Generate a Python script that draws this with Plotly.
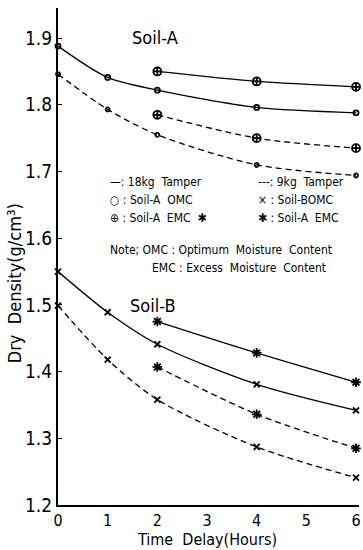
import plotly.graph_objects as go

hours_full = [0, 1, 2, 4, 6]
hours_late = [2, 4, 6]

a_omc_18 = [1.888, 1.841, 1.822, 1.796, 1.788]
a_emc_18 = [1.850, 1.835, 1.827]
a_omc_9 = [1.846, 1.793, 1.755, 1.710, 1.694]
a_emc_9 = [1.785, 1.750, 1.735]

b_omc_18 = [1.550, 1.489, 1.441, 1.381, 1.342]
b_emc_18 = [1.475, 1.428, 1.384]
b_omc_9 = [1.499, 1.418, 1.358, 1.287, 1.241]
b_emc_9 = [1.407, 1.336, 1.285]

y_ticks = [1.2, 1.3, 1.4, 1.5, 1.6, 1.7, 1.8, 1.9]
x_ticks = [0, 1, 2, 3, 4, 5, 6]

FONT = "Liberation Sans Narrow, DejaVu Sans Condensed, Liberation Sans, Arial, sans-serif"

series = [
    (hours_full, a_omc_18, "solid", "circle-open", 5),
    (hours_late, a_emc_18, "solid", "circle-cross-open", 8),
    (hours_full, a_omc_9, "6px,4px", "circle-open", 4),
    (hours_late, a_emc_9, "6px,4px", "circle-cross-open", 8),
    (hours_full, b_omc_18, "solid", "x-thin-open", 6),
    (hours_late, b_emc_18, "solid", "asterisk-open", 8),
    (hours_full, b_omc_9, "6px,4px", "x-thin-open", 6),
    (hours_late, b_emc_9, "6px,4px", "asterisk-open", 8),
]

fig = go.Figure()
for xs, ys, dash, sym, sz in series:
    fig.add_trace(go.Scatter(
        x=xs, y=ys, mode="lines+markers",
        line=dict(color="black", width=1.3, dash=dash, shape="spline", smoothing=0.8),
        marker=dict(symbol=sym, size=sz, color="black", line=dict(color="black", width=1.8)),
        showlegend=False, hoverinfo="skip", cliponaxis=False,
    ))

TOP, BOT = 8, 505
H = BOT - TOP

fig.update_layout(
    width=363, height=550,
    margin=dict(l=58, r=2, t=TOP, b=550 - BOT),
    paper_bgcolor="white", plot_bgcolor="white",
    font=dict(family=FONT, color="black"),
    xaxis=dict(range=[0, 6.06], tickvals=x_ticks, ticktext=[str(v) for v in x_ticks],
               showgrid=False, zeroline=False, showline=True, linecolor="black", linewidth=2,
               ticks="", ticklabeloverflow="allow",
               tickfont=dict(size=16, family=FONT)),
    yaxis=dict(range=[1.2, 1.2 + H / 667], tickvals=y_ticks, ticktext=[f"{v:.1f}" for v in y_ticks],
               showgrid=False, zeroline=False, showline=True, linecolor="black", linewidth=2,
               ticks="inside", ticklen=4, tickcolor="black",
               tickfont=dict(size=19, family=FONT)),
)

ann = []
def text(x, y, s, size=13, xanchor="left"):
    ann.append(dict(x=x, y=y, xref="paper", yref="paper", text=s, showarrow=False,
                    xanchor=xanchor, yanchor="middle", font=dict(size=size, family=FONT, color="black")))

def px(xp):
    return (xp - 58) / 303
def py(yp):
    return (BOT - yp) / H

text(px(130), py(38), "Soil-A", 18)
text(px(128), py(305), "Soil-B", 18)
text(px(108), py(182), "—: 18kg  Tamper", 12)
text(px(257), py(182), "---: 9kg  Tamper", 12)
text(px(108), py(200), "○ : Soil-A  OMC", 12)
text(px(257), py(200), "× : Soil-BOMC", 12)
text(px(108), py(218), "⊕ : Soil-A  EMC  ✱", 12)
text(px(257), py(218), "✱ : Soil-A  EMC", 12)
text(px(108), py(250), "Note; OMC : Optimum  Moisture  Content", 12)
text(px(240), py(268), "EMC : Excess  Moisture  Content", 12, xanchor="center")

ann.append(dict(x=px(208), y=py(539), xref="paper", yref="paper", text="Time  Delay(Hours)",
                showarrow=False, xanchor="center", yanchor="middle",
                font=dict(size=16, family=FONT, color="black")))
ann.append(dict(x=-(58 - 14) / 303, y=py(283), xref="paper", yref="paper", text="Dry  Density(g/cm³)",
                showarrow=False, xanchor="center", yanchor="middle", textangle=-90,
                font=dict(size=18, family=FONT, color="black")))
fig.update_layout(annotations=ann)

fig.write_html("out.html")
